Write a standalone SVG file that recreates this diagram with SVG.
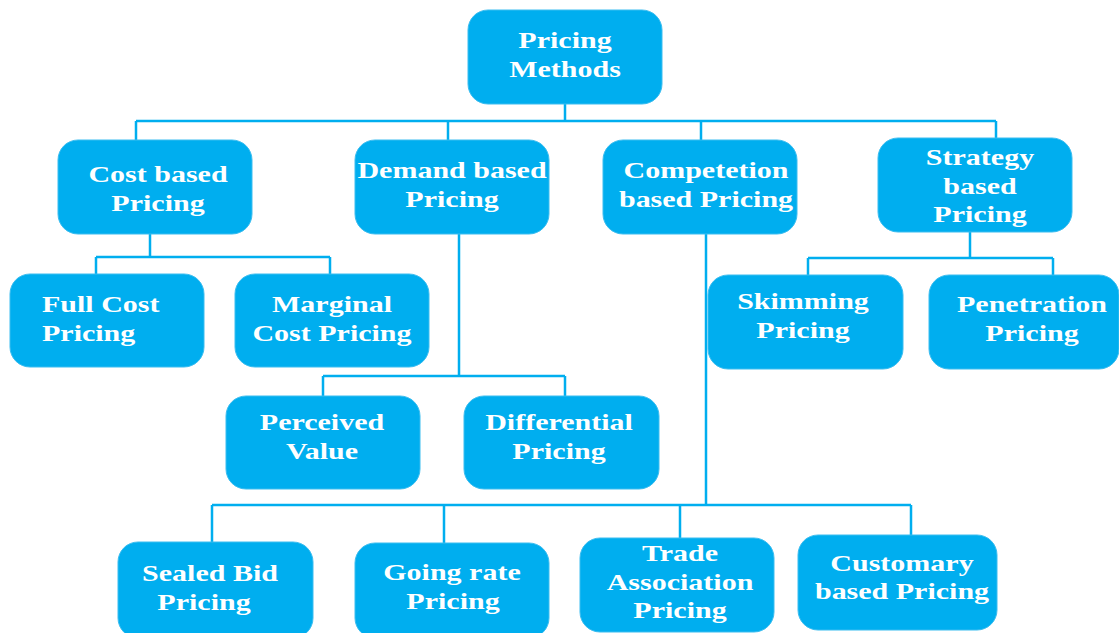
<svg xmlns="http://www.w3.org/2000/svg" width="1119" height="633" viewBox="0 0 1119 633">
<style>
.box{fill:#00AEEF;stroke:#3BBDF0;stroke-width:1}
.t{font-family:"Liberation Serif","Times New Roman",serif;font-weight:bold;font-size:24px;fill:#FFFFFF;text-anchor:middle}
.ts{font-family:"Liberation Serif","Times New Roman",serif;font-weight:bold;font-size:24px;fill:#FFFFFF;text-anchor:start}
.c{fill:none;stroke:#00AEEF;stroke-width:2.5}
</style>
<rect width="1119" height="633" fill="#FFFFFF"/>
<g id="connectors">
<path class="c" d="M565 104V121M136 121H996M136 121V140M448 121V140M701 121V140M996 121V138"/>
<path class="c" d="M150 234V257M96 257H330M96 257V274M330 257V274"/>
<path class="c" d="M459 234V376M323 376H565M323 376V396M565 376V396"/>
<path class="c" d="M706 234V505M212 505H911M212 505V542M444 505V543M680 505V538M911 505V535"/>
<path class="c" d="M970 232V258M808 258H1053M808 258V275M1053 258V275"/>
</g>
<g id="root">
<rect class="box" x="468" y="10" width="194" height="94" rx="20"/>
<text class="t" transform="translate(565 0) scale(1.25 1)" x="0" y="48">Pricing</text>
<text class="t" transform="translate(565 0) scale(1.25 1)" x="0" y="77">Methods</text>
</g>
<g id="cost">
<rect class="box" x="58" y="140" width="194" height="94" rx="20"/>
<text class="t" transform="translate(158 0) scale(1.25 1)" x="0" y="182">Cost based</text>
<text class="t" transform="translate(158 0) scale(1.25 1)" x="0" y="211">Pricing</text>
</g>
<g id="demand">
<rect class="box" x="355" y="140" width="194" height="94" rx="20"/>
<text class="t" transform="translate(452 0) scale(1.25 1)" x="0" y="178">Demand based</text>
<text class="t" transform="translate(452 0) scale(1.25 1)" x="0" y="207">Pricing</text>
</g>
<g id="competition">
<rect class="box" x="603" y="140" width="194" height="94" rx="20"/>
<text class="t" transform="translate(706 0) scale(1.25 1)" x="0" y="178">Competetion</text>
<text class="t" transform="translate(706 0) scale(1.25 1)" x="0" y="207">based Pricing</text>
</g>
<g id="strategy">
<rect class="box" x="878" y="138" width="194" height="94" rx="20"/>
<text class="t" transform="translate(980 0) scale(1.25 1)" x="0" y="165">Strategy</text>
<text class="t" transform="translate(980 0) scale(1.25 1)" x="0" y="194">based</text>
<text class="t" transform="translate(980 0) scale(1.25 1)" x="0" y="222">Pricing</text>
</g>
<g id="fullcost">
<rect class="box" x="10" y="274" width="194" height="93" rx="20"/>
<text class="ts" transform="translate(42 0) scale(1.25 1)" x="0" y="312">Full Cost</text>
<text class="ts" transform="translate(42 0) scale(1.25 1)" x="0" y="341">Pricing</text>
</g>
<g id="marginal">
<rect class="box" x="235" y="274" width="194" height="93" rx="20"/>
<text class="t" transform="translate(332 0) scale(1.25 1)" x="0" y="312">Marginal</text>
<text class="t" transform="translate(332 0) scale(1.25 1)" x="0" y="341">Cost Pricing</text>
</g>
<g id="perceived">
<rect class="box" x="226" y="396" width="194" height="93" rx="20"/>
<text class="t" transform="translate(322 0) scale(1.25 1)" x="0" y="430">Perceived</text>
<text class="t" transform="translate(322 0) scale(1.25 1)" x="0" y="459">Value</text>
</g>
<g id="differential">
<rect class="box" x="464" y="396" width="195" height="93" rx="20"/>
<text class="t" transform="translate(559 0) scale(1.25 1)" x="0" y="430">Differential</text>
<text class="t" transform="translate(559 0) scale(1.25 1)" x="0" y="459">Pricing</text>
</g>
<g id="skimming">
<rect class="box" x="708" y="275" width="195" height="94" rx="20"/>
<text class="t" transform="translate(803 0) scale(1.25 1)" x="0" y="309">Skimming</text>
<text class="t" transform="translate(803 0) scale(1.25 1)" x="0" y="338">Pricing</text>
</g>
<g id="penetration">
<rect class="box" x="929" y="275" width="190" height="94" rx="20"/>
<text class="t" transform="translate(1032 0) scale(1.25 1)" x="0" y="312">Penetration</text>
<text class="t" transform="translate(1032 0) scale(1.25 1)" x="0" y="341">Pricing</text>
</g>
<g id="sealedbid">
<rect class="box" x="118" y="542" width="195" height="96" rx="20"/>
<text class="t" transform="translate(210 0) scale(1.25 1)" x="0" y="581">Sealed Bid</text>
<text class="t" transform="translate(204 0) scale(1.25 1)" x="0" y="610">Pricing</text>
</g>
<g id="goingrate">
<rect class="box" x="355" y="543" width="194" height="95" rx="20"/>
<text class="t" transform="translate(452 0) scale(1.25 1)" x="0" y="580">Going rate</text>
<text class="t" transform="translate(453 0) scale(1.25 1)" x="0" y="609">Pricing</text>
</g>
<g id="trade">
<rect class="box" x="580" y="538" width="194" height="94" rx="20"/>
<text class="t" transform="translate(680 0) scale(1.25 1)" x="0" y="561">Trade</text>
<text class="t" transform="translate(680 0) scale(1.25 1)" x="0" y="590">Association</text>
<text class="t" transform="translate(680 0) scale(1.25 1)" x="0" y="618">Pricing</text>
</g>
<g id="customary">
<rect class="box" x="798" y="535" width="199" height="95" rx="20"/>
<text class="t" transform="translate(902 0) scale(1.25 1)" x="0" y="571">Customary</text>
<text class="t" transform="translate(902 0) scale(1.25 1)" x="0" y="599">based Pricing</text>
</g>
</svg>
